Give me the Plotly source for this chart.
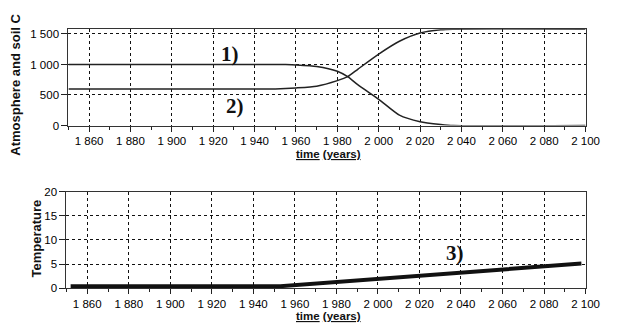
import plotly.graph_objects as go

# --- data -------------------------------------------------------------
years_c = [1850, 1950, 1955, 1960, 1970, 1980, 1985, 1990, 2000, 2010, 2020, 2030, 2036, 2100]
carbon_1 = [1000, 1000, 998, 992, 968, 890, 800, 665, 430, 170, 63, 18, 0, 0]
carbon_2 = [600, 600, 605, 615, 645, 735, 800, 925, 1170, 1380, 1515, 1568, 1578, 1578]

years_t = [1852, 1953, 2098]
temperature = [0.4, 0.4, 5.1]

x_ticks = [1860, 1880, 1900, 1920, 1940, 1960, 1980, 2000, 2020, 2040, 2060, 2080, 2100]
x_tick_text = ["1 860", "1 880", "1 900", "1 920", "1 940", "1 960", "1 980",
               "2 000", "2 020", "2 040", "2 060", "2 080", "2 100"]
c_ticks = [0, 500, 1000, 1500]
c_tick_text = ["0", "500", "1 000", "1 500"]
t_ticks = [0, 5, 10, 15, 20]
t_tick_text = ["0", "5", "10", "15", "20"]

W, H = 625, 332
FONT = "Liberation Sans, Arial, sans-serif"
SERIF = "Liberation Serif, Times New Roman, serif"

fig = go.Figure()
fig.add_trace(go.Scatter(x=years_c, y=carbon_1, mode="lines", line=dict(color="#222", width=1.5, shape="spline", smoothing=0.6),
                         xaxis="x", yaxis="y", showlegend=False))
fig.add_trace(go.Scatter(x=years_c, y=carbon_2, mode="lines", line=dict(color="#222", width=1.5, shape="spline", smoothing=0.6),
                         xaxis="x", yaxis="y", showlegend=False))
fig.add_trace(go.Scatter(x=years_t, y=temperature, mode="lines", line=dict(color="#111", width=4),
                         xaxis="x2", yaxis="y2", showlegend=False))


def xax(domain, anchor):
    return dict(domain=domain, anchor=anchor, range=[1850, 2100],
                tickmode="array", tickvals=x_ticks, ticktext=x_tick_text,
                ticks="outside", ticklen=5, tickcolor="#222", tickwidth=1,
                minor=dict(ticks="outside", ticklen=3, tickcolor="#222", dtick=10, tick0=1850, showgrid=False),
                showgrid=True, gridcolor="#111", gridwidth=1, griddash="3px,3px",
                showline=True, linecolor="#333", linewidth=1.2, mirror=True, zeroline=False,
                tickfont=dict(family=FONT, size=11.5, color="#000"))


def yax(domain, anchor, rng, vals, text):
    return dict(domain=domain, anchor=anchor, range=rng,
                tickmode="array", tickvals=vals, ticktext=text,
                ticks="outside", ticklen=6, tickcolor="#222", tickwidth=1,
                showgrid=True, gridcolor="#111", gridwidth=1, griddash="3px,3px",
                showline=True, linecolor="#333", linewidth=1.2, mirror=True, zeroline=False,
                tickfont=dict(family=FONT, size=11.5, color="#000"))


def ann(text, x, y, size, family, xref="paper", yref="paper", angle=0):
    return dict(text=text, x=x, y=y, xref=xref, yref=yref, showarrow=False,
                textangle=angle, xanchor="center", yanchor="middle",
                font=dict(family=family, size=size, color="#111"))


fig.update_layout(
    width=W, height=H, margin=dict(l=0, r=0, t=0, b=0),
    paper_bgcolor="white", plot_bgcolor="white",
    xaxis=xax([70 / W, 599 / W], "y"),
    yaxis=yax([(H - 124) / H, (H - 24) / H], "x", [0, 1579], c_ticks, c_tick_text),
    xaxis2=xax([68 / W, 599 / W], "y2"),
    yaxis2=yax([(H - 292.7) / H, (H - 192.7) / H], "x2", [0, 20], t_ticks, t_tick_text),
    annotations=[
        ann("<b>Atmosphere and soil C</b>", 15 / W, (H - 82) / H, 13, FONT, angle=-90),
        ann("<b>Temperature</b>", 37 / W, (H - 241) / H, 13, FONT, angle=-90),
        ann("<b><u>time</u> <u>(years)</u></b>", 336 / W, (H - 154) / H, 11.5, FONT),
        ann("<b><u>time</u> <u>(years)</u></b>", 336 / W, (H - 322) / H, 11.5, FONT),
        ann("<b>1)</b>", 1928, 1164, 21, SERIF, "x", "y"),
        ann("<b>2)</b>", 1930.7, 316, 21, SERIF, "x", "y"),
        ann("<b>3)</b>", 2037, 7.3, 21, SERIF, "x2", "y2"),
    ],
)

fig.write_html("out.html")
